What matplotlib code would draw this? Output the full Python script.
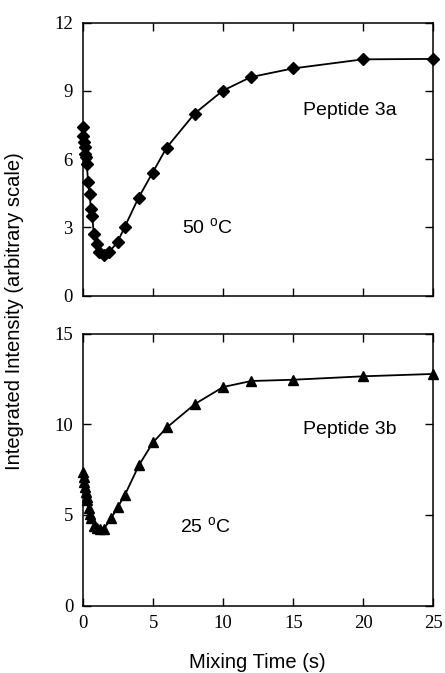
import matplotlib
matplotlib.use("Agg")
import matplotlib.pyplot as plt

# ---- data ----
t_3a = [0, 0.05, 0.1, 0.15, 0.2, 0.25, 0.3, 0.4, 0.5, 0.6, 0.7, 0.8, 1.0, 1.2,
        1.5, 1.9, 2.5, 3.0, 4, 5, 6, 8, 10, 12, 15, 20, 25]
y_3a = [7.41, 7.0, 6.75, 6.53, 6.24, 6.09, 5.80, 4.99, 4.48, 3.82, 3.48, 2.72,
        2.28, 1.91, 1.76, 1.91, 2.35, 3.0, 4.3, 5.4, 6.5, 8.0, 9.0, 9.6, 9.98,
        10.38, 10.4]

t_3b = [0, 0.05, 0.1, 0.15, 0.2, 0.25, 0.3, 0.4, 0.5, 0.6, 0.8, 1.0, 1.2, 1.5,
        2.0, 2.5, 3.0, 4, 5, 6, 8, 10, 12, 15, 20, 25]
y_3b = [7.38, 7.1, 6.82, 6.55, 6.27, 5.99, 5.81, 5.35, 5.04, 4.8, 4.37, 4.3,
        4.24, 4.24, 4.8, 5.45, 6.12, 7.75, 9.0, 9.83, 11.12, 12.05, 12.38,
        12.45, 12.64, 12.77]

x_ticks = [0, 5, 10, 15, 20, 25]
y_ticks_3a = [0, 3, 6, 9, 12]
y_ticks_3b = [0, 5, 10, 15]

plt.rcParams['mathtext.fontset'] = 'custom'
plt.rcParams['mathtext.rm'] = 'Liberation Sans'

W, H = 445, 673
fig = plt.figure(figsize=(W / 100, H / 100), dpi=100)

def px_axes(x0, y0, x1, y1):
    return fig.add_axes([x0 / W, 1 - y1 / H, (x1 - x0) / W, (y1 - y0) / H])

ax1 = px_axes(82.5, 22.5, 433, 295.5)
ax2 = px_axes(83, 333.5, 433.5, 605.5)

serif = 'Liberation Serif'
sans = 'Liberation Sans'

for ax, yt in ((ax1, y_ticks_3a), (ax2, y_ticks_3b)):
    ax.set_xlim(0, 25)
    ax.set_ylim(yt[0], yt[-1])
    ax.set_xticks(x_ticks)
    ax.set_yticks(yt)
    ax.tick_params(direction='in', length=5.5, width=1.0, top=True, right=True,
                   labelsize=13.5, pad=7)
    for lab in ax.get_xticklabels() + ax.get_yticklabels():
        lab.set_fontfamily(serif)
    for s in ax.spines.values():
        s.set_linewidth(1.1)

ax1.tick_params(labelbottom=False)

ax1.plot(t_3a, y_3a, color='black', lw=1.3, marker='D', ms=5.8,
         clip_on=False, zorder=3)
ax2.plot(t_3b, y_3b, color='black', lw=1.3, marker='^', ms=7.8,
         clip_on=False, zorder=3)

ax1.text(19.1, 8.15, 'Peptide 3a', family=sans, fontsize=14,
         ha='center', va='center')
ax1.text(8.9, 3.0, '50 $^{\\mathrm{o}}$C', family=sans, fontsize=14,
         ha='center', va='center')
ax2.text(19.0, 9.7, 'Peptide 3b', family=sans, fontsize=14,
         ha='center', va='center')
ax2.text(8.75, 4.33, '25 $^{\\mathrm{o}}$C', family=sans, fontsize=14,
         ha='center', va='center')

fig.text(257 / W, 1 - 662 / H, 'Mixing Time (s)', family=sans, fontsize=14.5,
         ha='center', va='center')
fig.text(15 / W, 1 - 311 / H, 'Integrated Intensity (arbitrary scale)',
         family=sans, fontsize=14.5, rotation=90, ha='center', va='center')

fig.savefig('out.png', dpi=100)
